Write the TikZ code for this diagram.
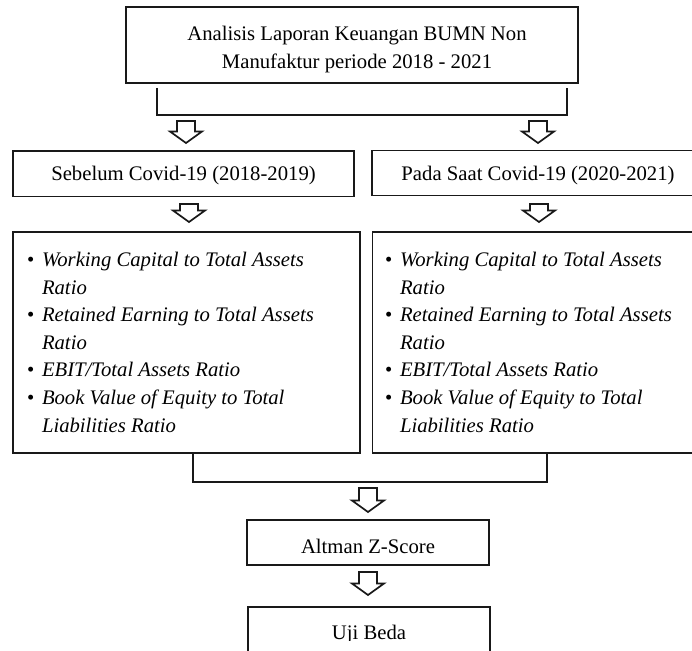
\documentclass[tikz,border=0pt]{standalone}
\usepackage{fontspec}
\setmainfont{Liberation Serif}
\usetikzlibrary{calc}
\newcommand\bulitem[1]{\hbox{\hbox to 15pt{\textbullet\hss}\textit{#1}}}
\newcommand\bulcont[1]{\hbox{\kern15pt\textit{#1}}}
\newcommand\bullist{\vtop{\baselineskip=27.6pt\lineskiplimit=-10pt
  \bulitem{Working Capital to Total Assets}
  \bulcont{Ratio}
  \bulitem{Retained Earning to Total Assets}
  \bulcont{Ratio}
  \bulitem{EBIT/Total Assets Ratio}
  \bulitem{Book Value of Equity to Total}
  \bulcont{Liabilities Ratio}}}
\begin{document}
\begin{tikzpicture}[x=1pt,y=-1pt,
  line/.style={line width=1.8pt, draw=black!90},
  box/.style={line, rectangle, inner sep=0pt, outer sep=0pt, fill=white,
    font=\fontsize{20.7}{27.6}\selectfont},
  txt/.style={inner sep=0pt, outer sep=0pt, font=\fontsize{20.7}{27.6}\selectfont},
  arrowline/.style={line width=1.7pt, draw=black!90, fill=white, line join=miter},
  pics/barrow/.style={code={
    \draw[arrowline] (-9,-#1) -- (9,-#1) -- (9,-11.5) -- (16,-11.5) -- (0,0)
      -- (-16,-11.5) -- (-9,-11.5) -- cycle;}}
]
\useasboundingbox (0,0) rectangle (692,650);
\fill[white] (0,0) rectangle (692,650);
\clip (0,0) rectangle (692,650);

% top box
\node[box, minimum width=452, minimum height=76] (top) at (352,45) {};
\node[txt, align=center] (toptxt) at (357,49.7)
  {Analisis Laporan Keuangan BUMN Non\\Manufaktur periode 2018 - 2021};

% top bracket
\coordinate (tl) at (157,88);
\coordinate (tr) at (567,88);
\draw[line] (tl) -- ++(0,27) -| (tr);

\pic at (186,143) {barrow=22};
\pic at (538,143) {barrow=22};

% period boxes
\node[box, minimum width=341, minimum height=45.5, text height=16, text depth=2]
  (seb) at (183.5,173.75) {Sebelum Covid-19 (2018-2019)};
\node[box, minimum width=332, minimum height=45, text height=16, text depth=2]
  (pada) at (538,173) {Pada Saat Covid-19 (2020-2021)};

\pic at (189,222) {barrow=18};
\pic at (539,222) {barrow=18};

% ratio boxes
\node[box, minimum width=347, minimum height=221] (lbig) at (186.5,342.5) {};
\node[box, minimum width=331.5, minimum height=221] (rbig) at (538.25,342.5) {};
\node[txt, anchor=base west] (ltxt) at (27,266.5) {\bullist};
\node[txt, anchor=base west] (rtxt) at (385,266.5) {\bullist};

% bottom bracket
\coordinate (bl) at (193,453);
\coordinate (brr) at (547,453);
\draw[line] (bl) -- ++(0,29) -| (brr);

\pic at (368,512) {barrow=24};

\node[box, minimum width=242, minimum height=45, text height=22, text depth=1]
  (alt) at (368,542.5) {Altman Z-Score};

\pic at (368,595) {barrow=23};

\node[box, minimum width=242, minimum height=45] (uji) at (369,629.5) {};
\begin{scope}
  \clip (uji.north west) rectangle ($(uji.east)+(0,11)$);
  \node[txt, anchor=base] (ujitxt) at (369,639) {Uji Beda};
\end{scope}
\end{tikzpicture}
\end{document}
